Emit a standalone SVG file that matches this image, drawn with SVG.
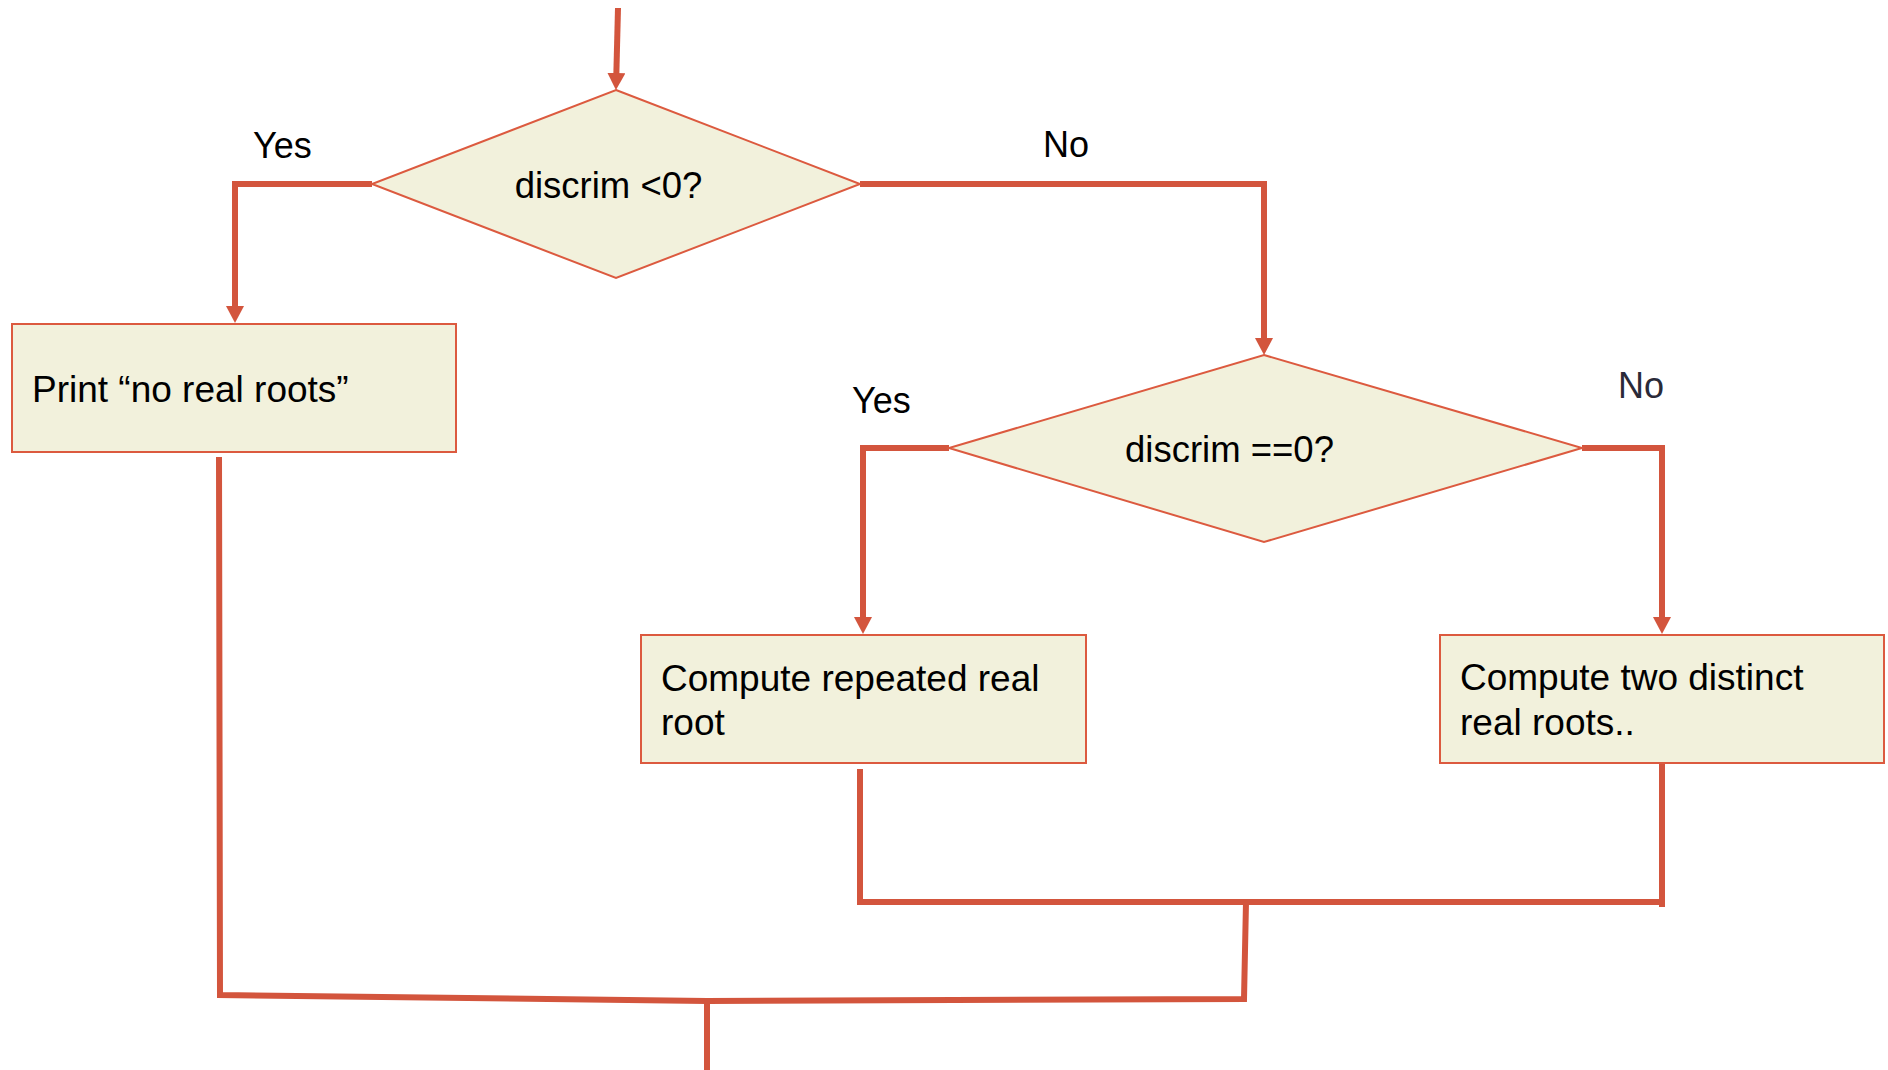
<svg xmlns="http://www.w3.org/2000/svg" width="1888" height="1070" viewBox="0 0 1888 1070">
<style>
.node{fill:#f2f1dc;stroke:#dc5a3f;stroke-width:2}
.conn{fill:none;stroke:#d3553d;stroke-width:6;stroke-linejoin:miter}
.t{font-family:"Liberation Sans",Arial,sans-serif;fill:#000}
.bt{font-size:37px}
.dt{font-size:36.5px;text-anchor:middle}
.lb{font-size:36px}
</style>
<defs>
<marker id="arr" markerUnits="userSpaceOnUse" markerWidth="18" markerHeight="18" refX="7" refY="9" orient="auto">
<path d="M0,0 L17,9 L0,18 Z" fill="#d3553d"/>
</marker>
</defs>
<rect width="1888" height="1070" fill="#fff"/>
<g id="connectors">
<path class="conn" d="M618,8 L616.2,80" marker-end="url(#arr)"/>
<path class="conn" d="M372,184 H235 V313" marker-end="url(#arr)"/>
<path class="conn" d="M860,184 H1264 V345" marker-end="url(#arr)"/>
<path class="conn" d="M949,448 H863 V624" marker-end="url(#arr)"/>
<path class="conn" d="M1582,448 H1662 V624" marker-end="url(#arr)"/>
<path class="conn" d="M219,457 L220,995 L707,1001 L1244,999 L1246,902"/>
<path class="conn" d="M860,769 V902 H1665"/>
<path class="conn" d="M1662,763 V907"/>
<path class="conn" d="M707,1001 V1070"/>
</g>
<g id="d1">
<polygon class="node" points="616,90 860,184 616,278 372,184"/>
<text class="t dt" x="608.5" y="198">discrim &lt;0?</text>
</g>
<g id="d2">
<polygon class="node" points="1264,355 1582,448 1264,542 949,448"/>
<text class="t dt" x="1229.5" y="462">discrim ==0?</text>
</g>
<g id="b1">
<rect class="node" x="12" y="324" width="444" height="128"/>
<text class="t bt" x="32" y="402">Print “no real roots”</text>
</g>
<g id="b2">
<rect class="node" x="641" y="635" width="445" height="128"/>
<text class="t bt" x="661" y="691">Compute repeated real</text>
<text class="t bt" x="661" y="735">root</text>
</g>
<g id="b3">
<rect class="node" x="1440" y="635" width="444" height="128"/>
<text class="t bt" x="1460" y="690">Compute two distinct</text>
<text class="t bt" x="1460" y="735">real roots..</text>
</g>
<g id="labels">
<text class="t lb" x="253" y="158">Yes</text>
<text class="t lb" x="1043" y="157">No</text>
<text class="t lb" x="852" y="413">Yes</text>
<text class="t lb" x="1618" y="398" style="fill:#2a2a38">No</text>
</g>
</svg>
